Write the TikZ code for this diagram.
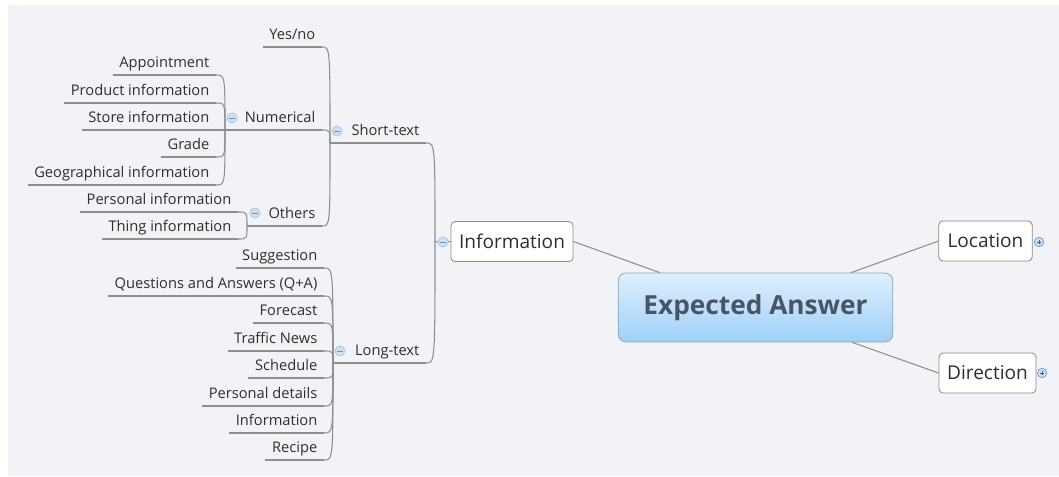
\documentclass[tikz,border=0pt]{standalone}
\usepackage{fontspec}
\setmainfont{Open Sans}
\usetikzlibrary{calc}
\definecolor{bg}{HTML}{F2F3F7}
\definecolor{lc}{HTML}{8E8E8E}
\definecolor{txt}{HTML}{2E2E2E}
\definecolor{boxc}{HTML}{8A8A8A}
\definecolor{cf}{HTML}{CFE0F2}
\definecolor{cb}{HTML}{A9C2DD}
\definecolor{colm}{HTML}{6F93BC}
\definecolor{colp}{HTML}{3F5F85}
\definecolor{eatop}{HTML}{DDEFFD}
\definecolor{eabot}{HTML}{A0D0F8}
\definecolor{eab}{HTML}{8DA6BF}
\definecolor{eatxt}{HTML}{4A5563}
\begin{document}
\begin{tikzpicture}[x=0.75pt,y=-0.75pt,
  leaf/.style={anchor=south east, inner xsep=5pt, inner ysep=0pt, outer sep=0pt,
    text height=8pt, text depth=6pt, text=txt, font=\fontsize{11}{13}\selectfont},
  uline/.style={draw=lc, line width=0.8pt},
  conn/.style={draw=lc, line width=0.8pt},
  coll/.style={circle, draw=cb, fill=cf, line width=0.5pt, minimum size=7.5pt, inner sep=0pt,
    path picture={\draw[colm, line width=0.6pt] ([xshift=-1.9pt]path picture bounding box.center) -- ([xshift=1.9pt]path picture bounding box.center);}},
  expd/.style={circle, draw=colm, fill=cf, line width=0.5pt, minimum size=7pt, inner sep=0pt,
    path picture={\draw[colp, line width=0.6pt] ([xshift=-1.8pt]path picture bounding box.center) -- ([xshift=1.8pt]path picture bounding box.center);
      \draw[colp, line width=0.6pt] ([yshift=-1.8pt]path picture bounding box.center) -- ([yshift=1.8pt]path picture bounding box.center);}},
  topic/.style={draw=boxc, fill=white, rounded corners=3pt, line width=0.6pt, text=txt,
    font=\fontsize{14.3}{16}\selectfont, minimum height=30pt, inner xsep=3pt},
  central/.style={draw=eab, top color=eatop, bottom color=eabot, rounded corners=6pt, line width=0.6pt,
    text=eatxt, font=\fontsize{19.7}{23}\selectfont\bfseries, minimum width=206pt, minimum height=51.75pt},
  link/.style={draw=lc, line width=0.8pt}
]
\useasboundingbox (0,0) rectangle (1059,476);
\fill[white] (0,0) rectangle (1059,476);
\fill[bg] (8,5) rectangle (1059,476);

% central and main topics
\node[central] (ea) at (755.5,307.5) {Expected Answer};
\node[topic, minimum width=91.5pt] (info) at (512,241.5) {Information};
\node[topic, minimum width=70pt] (loc) at (985.5,241) {Location};
\node[topic, minimum width=72.75pt] (dir) at (987.5,373) {Direction};
\draw[link] (info.east) -- ($(ea.north west)+(42,0)$);
\draw[link] ($(ea.north east)+(-42,0)$) -- (loc.west);
\draw[link] ($(ea.south east)+(-41,0)$) -- (dir.west);
\node[expd] (locx) at (1039,242) {};
\node[expd] (dirx) at (1042,373) {};

% Information junction
\coordinate (jinfo) at (435,242);
\draw[uline] (jinfo) -- (info.west);
\node[coll] (infoc) at (443,242) {};

% Short-text
\coordinate (jshort) at (330,143);
\node[leaf] (short) at (426,143) {Short-text};
\draw[uline] (jshort) -- (short.south east);
\draw[conn] (short.south east) .. controls (short.south east -| jinfo) .. (jinfo);
\node[coll] (shortc) at (337,131) {};

% Long-text
\coordinate (jlong) at (333,363);
\node[leaf] (long) at (426,363) {Long-text};
\draw[uline] (jlong) -- (long.south east);
\draw[conn] (long.south east) .. controls (long.south east -| jinfo) .. (jinfo);
\node[coll] (longc) at (340,351) {};

% Yes/no
\node[leaf] (yes) at (322,47) {Yes/no};
\draw[uline] (yes.south west) -- (yes.south east);
\draw[conn] (yes.south east) .. controls (yes.south east -| jshort) .. (jshort);

% Numerical
\coordinate (jnum) at (225,130);
\node[leaf] (num) at (322,130) {Numerical};
\draw[uline] (jnum) -- (num.south east);
\draw[conn] (num.south east) .. controls (num.south east -| jshort) .. (jshort);
\node[coll] (numc) at (232,118) {};

% Others
\coordinate (joth) at (247,226);
\node[leaf] (oth) at (322,226) {Others};
\draw[uline] (joth) -- (oth.south east);
\draw[conn] (oth.south east) .. controls (oth.south east -| jshort) .. (jshort);
\node[coll] (othc) at (255,213) {};

% Numerical children
\foreach \n/\y/\t in {appt/75/Appointment, prod/103/Product information, store/130/Store information, grade/157/Grade, geo/185/Geographical information}{
  \node[leaf] (\n) at (216,\y) {\t};
  \draw[uline] (\n.south west) -- (\n.south east);
  \draw[conn] (\n.south east) .. controls (\n.south east -| jnum) .. (jnum);
}

% Others children
\foreach \n/\y/\t in {pers/212/Personal information, thing/239/Thing information}{
  \node[leaf] (\n) at (238,\y) {\t};
  \draw[uline] (\n.south west) -- (\n.south east);
  \draw[conn] (\n.south east) .. controls (\n.south east -| joth) .. (joth);
}

% Long-text children
\foreach \n/\y/\t in {sugg/268/Suggestion, qa/296/Questions and Answers (Q+A), fore/323/Forecast, traf/351/Traffic News, sched/378/Schedule, pdet/406/Personal details, linfo/433/Information, rec/460/Recipe}{
  \node[leaf] (\n) at (324,\y) {\t};
  \draw[uline] (\n.south west) -- (\n.south east);
  \draw[conn] (\n.south east) .. controls (\n.south east -| jlong) .. (jlong);
}
\end{tikzpicture}
\end{document}
